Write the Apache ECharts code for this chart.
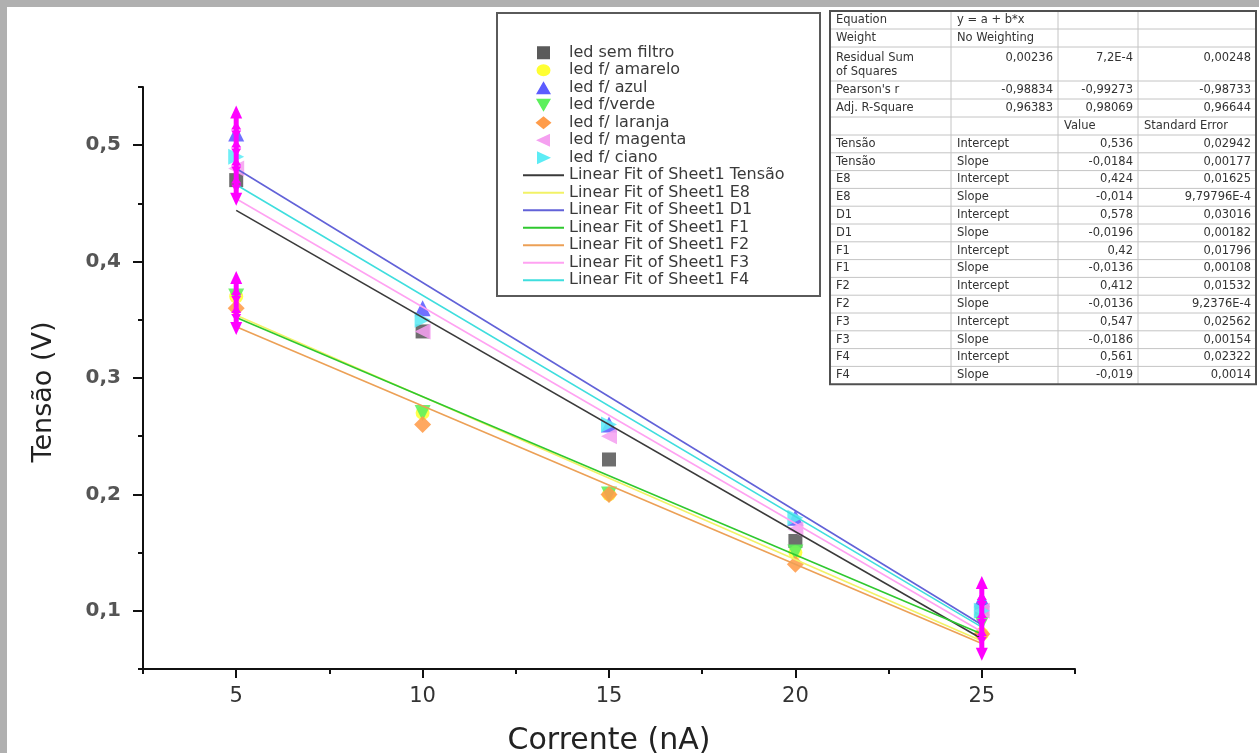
<!DOCTYPE html>
<html>
<head>
<meta charset="utf-8">
<script src="https://cdn.jsdelivr.net/npm/echarts@6/dist/echarts.min.js"></script>
<style>
html, body { margin: 0; padding: 0; background: #b0b0b0; }
#grafico { width: 1259px; height: 753px; }
</style>
</head>
<body>
<div id="grafico"></div>
<script>
// corrente (nA)
var corrente = [5, 10, 15, 20, 25];

// tensão (V) de cada led
var semFiltro = [0.47, 0.34, 0.23, 0.16, 0.10];
var amarelo   = [0.37, 0.27, 0.20, 0.15, 0.08];
var azul      = [0.51, 0.36, 0.26, 0.18, 0.11];
var verde     = [0.37, 0.27, 0.20, 0.15, 0.09];
var laranja   = [0.36, 0.26, 0.20, 0.14, 0.08];
var magenta   = [0.48, 0.34, 0.25, 0.17, 0.10];
var ciano     = [0.49, 0.35, 0.26, 0.18, 0.10];

// barras magenta (x, min, max)
var barras = [[5, 0.448, 0.534], [5, 0.337, 0.392], [25, 0.057, 0.130]];

// ajuste linear (tabela)
var ajusteNomes = ['Tensão', 'E8', 'D1', 'F1', 'F2', 'F3', 'F4'];
var intercepto  = [0.536, 0.424, 0.578, 0.42, 0.412, 0.547, 0.561];
var interceptoErro = ['0,02942', '0,01625', '0,03016', '0,01796', '0,01532', '0,02562', '0,02322'];
var inclinacao  = [-0.0184, -0.014, -0.0196, -0.0136, -0.0136, -0.0186, -0.019];
var inclinacaoErro = ['0,00177', '9,79796E-4', '0,00182', '0,00108', '9,2376E-4', '0,00154', '0,0014'];
var cabecalho = [
    ['Equation', 'y = a + b*x', '', ''],
    ['Weight', 'No Weighting', '', ''],
    ['Residual Sum\nof Squares', '0,00236', '7,2E-4', '0,00248'],
    ["Pearson's r", '-0,98834', '-0,99273', '-0,98733'],
    ['Adj. R-Square', '0,96383', '0,98069', '0,96644'],
    ['', '', 'Value', 'Standard Error']
];

var ticksX = [5, 10, 15, 20, 25];
var ticksXmenor = [2.5, 7.5, 12.5, 17.5, 22.5, 27.5];
var ticksY = [0.1, 0.2, 0.3, 0.4, 0.5];
var ticksYmenor = [0.05, 0.15, 0.25, 0.35, 0.45, 0.55];

// icones da legenda (caixa 41x13, cantos fixos para nao esticar)
var cantos = 'M0,0L0.01,0.01M41,13L40.99,12.99';
var icones = {
    quadrado: 'path://' + cantos + 'M14,0L27,0L27,13L14,13Z',
    circulo: 'path://' + cantos + 'M13.5,6.5A7,6,0,1,1,27.5,6.5A7,6,0,1,1,13.5,6.5Z',
    cima: 'path://' + cantos + 'M20.5,0L28,13L13,13Z',
    baixo: 'path://' + cantos + 'M13,0L28,0L20.5,13Z',
    losango: 'path://' + cantos + 'M20.5,0L28.5,6.5L20.5,13L12.5,6.5Z',
    esquerda: 'path://' + cantos + 'M13,6.5L27,0L27,13Z',
    direita: 'path://' + cantos + 'M14,0L28,6.5L14,13Z'
};

var leds = [
    {nome: 'led sem filtro', y: semFiltro, cor: '#5a5a5a', simbolo: 'rect', tam: 14, rot: 0, icone: icones.quadrado},
    {nome: 'led f/ amarelo', y: amarelo, cor: '#ffff33', simbolo: 'circle', tam: 14, rot: 0, icone: icones.circulo},
    {nome: 'led f/ azul', y: azul, cor: '#5c5cff', simbolo: 'triangle', tam: 16, rot: 0, icone: icones.cima},
    {nome: 'led f/verde', y: verde, cor: '#5cf05c', simbolo: 'triangle', tam: 16, rot: 180, icone: icones.baixo},
    {nome: 'led f/ laranja', y: laranja, cor: '#ff9c4a', simbolo: 'diamond', tam: 17, rot: 0, icone: icones.losango},
    {nome: 'led f/ magenta', y: magenta, cor: '#f5a0f0', simbolo: 'triangle', tam: 16, rot: 90, icone: icones.esquerda},
    {nome: 'led f/ ciano', y: ciano, cor: '#5cecf5', simbolo: 'triangle', tam: 16, rot: -90, icone: icones.direita}
];
var coresAjuste = ['#3a3a3a', '#f2f266', '#6262d8', '#2fc82f', '#eca056', '#ffa2f2', '#3fdede'];

var fonte = '"DejaVu Sans", "Liberation Sans", Arial, sans-serif';
function virgula(v) { return String(v).replace('.', ','); }

var series = [];
var legenda = [];
leds.forEach(function (l) {
    series.push({
        name: l.nome,
        type: 'scatter',
        symbol: l.simbolo,
        symbolSize: l.tam,
        symbolRotate: l.rot,
        itemStyle: {color: l.cor, opacity: 0.88},
        data: corrente.map(function (x, i) { return [x, l.y[i]]; }),
        z: 3
    });
    legenda.push({name: l.nome, icon: l.icone, symbolRotate: 0, itemStyle: {opacity: 1}});
});
ajusteNomes.forEach(function (n, k) {
    var nome = 'Linear Fit of Sheet1 ' + n;
    var x0 = corrente[0], x1 = corrente[corrente.length - 1];
    series.push({
        name: nome,
        type: 'line',
        symbol: 'none',
        lineStyle: {color: coresAjuste[k], width: 1.6},
        itemStyle: {color: coresAjuste[k]},
        data: [[x0, intercepto[k] + inclinacao[k] * x0], [x1, intercepto[k] + inclinacao[k] * x1]],
        z: 4
    });
    legenda.push({name: nome, itemStyle: {color: 'rgba(0,0,0,0)', opacity: 0, borderWidth: 0}});
});
series.push({
    name: 'barras',
    type: 'custom',
    z: 5,
    data: barras,
    renderItem: function (params, api) {
        var topo = api.coord([api.value(0), api.value(2)]);
        var base = api.coord([api.value(0), api.value(1)]);
        var x = topo[0], cor = '#ff00ff';
        var filhos = [{
            type: 'line',
            shape: {x1: x, y1: topo[1] + 8, x2: x, y2: base[1] - 8},
            style: {stroke: cor, lineWidth: 5}
        }, {
            type: 'polygon',
            shape: {points: [[x, topo[1]], [x - 6, topo[1] + 13], [x + 6, topo[1] + 13]]},
            style: {fill: cor}
        }, {
            type: 'polygon',
            shape: {points: [[x, base[1]], [x - 6, base[1] - 13], [x + 6, base[1] - 13]]},
            style: {fill: cor}
        }];
        var up = true;
        for (var yy = topo[1] + 16; yy < base[1] - 16; yy += 9) {
            var p = up ? [[x, yy], [x - 5, yy + 8], [x + 5, yy + 8]] : [[x, yy + 8], [x - 5, yy], [x + 5, yy]];
            filhos.push({type: 'polygon', shape: {points: p}, style: {fill: cor}});
            up = !up;
        }
        return {type: 'group', children: filhos};
    }
});

// tabela de resultados do ajuste
var linhasTabela = cabecalho.slice();
ajusteNomes.forEach(function (n, k) {
    linhasTabela.push([n, 'Intercept', virgula(intercepto[k]), interceptoErro[k]]);
    linhasTabela.push([n, 'Slope', virgula(inclinacao[k]), inclinacaoErro[k]]);
});
var tabX = [830, 951, 1058, 1138, 1256];
var tabTop = 11;
var alturas = linhasTabela.map(function (r, i) { return i === 2 ? 34 : (i < 6 ? 18 : 17.8); });
var tabela = [];
var yAtual = tabTop;
tabela.push({type: 'rect', shape: {x: tabX[0], y: tabTop, width: tabX[4] - tabX[0], height: 373}, style: {fill: '#fff', stroke: null}});
linhasTabela.forEach(function (r, i) {
    var h = alturas[i];
    for (var c = 0; c < 4; c++) {
        var txt = r[c];
        if (!txt) continue;
        var esquerda = c === 0 || (c === 1 && (i < 2 || i > 5)) || i === 5;
        tabela.push({
            type: 'text',
            style: {
                text: txt,
                x: esquerda ? tabX[c] + 6 : tabX[c + 1] - 5,
                y: i === 2 ? yAtual + 4 : yAtual + h / 2,
                align: esquerda ? 'left' : 'right',
                verticalAlign: i === 2 ? 'top' : 'middle',
                font: '11.5px ' + fonte,
                fill: '#333',
                lineHeight: 14
            }
        });
    }
    yAtual += h;
    if (i < linhasTabela.length - 1) {
        tabela.push({type: 'line', shape: {x1: tabX[0], y1: yAtual, x2: tabX[4], y2: yAtual}, style: {stroke: '#c4c4c4', lineWidth: 1}});
    }
});
for (var c = 1; c < 4; c++) {
    tabela.push({type: 'line', shape: {x1: tabX[c], y1: tabTop, x2: tabX[c], y2: yAtual}, style: {stroke: '#c4c4c4', lineWidth: 1}});
}
tabela.push({type: 'rect', shape: {x: tabX[0], y: tabTop, width: tabX[4] - tabX[0], height: yAtual - tabTop}, style: {fill: null, stroke: '#505050', lineWidth: 2}});

var chart = echarts.init(document.getElementById('grafico'));
var option = {
    backgroundColor: '#b0b0b0',
    animation: false,
    textStyle: {fontFamily: fonte},
    grid: {left: 143, right: 184, top: 87, bottom: 84, containLabel: false, outerBoundsMode: 'none'},
    legend: {
        data: legenda,
        orient: 'vertical',
        left: 522,
        top: 44,
        padding: 0,
        itemWidth: 41,
        itemHeight: 13,
        itemGap: 0,
        selectedMode: false,
        textStyle: {fontFamily: fonte, fontSize: 16, lineHeight: 17.5, color: '#3a3a3a'}
    },
    xAxis: [{
        type: 'value',
        min: 2.5, max: 27.5,
        name: 'Corrente (nA)',
        nameLocation: 'middle',
        nameGap: 57,
        nameTextStyle: {fontFamily: fonte, fontSize: 30, color: '#222'},
        axisLine: {onZero: false, lineStyle: {color: '#111', width: 2}},
        axisTick: {show: true, customValues: ticksX, length: 9, lineStyle: {color: '#111', width: 2}},
        axisLabel: {customValues: ticksX, margin: 17, fontSize: 21, color: '#333', fontFamily: fonte},
        splitLine: {show: false}
    }, {
        type: 'value',
        min: 2.5, max: 27.5,
        position: 'bottom',
        axisLine: {show: false, onZero: false},
        axisTick: {show: true, customValues: ticksXmenor, length: 5, lineStyle: {color: '#111', width: 2}},
        axisLabel: {show: false},
        splitLine: {show: false}
    }],
    yAxis: [{
        type: 'value',
        min: 0.05, max: 0.55,
        name: 'Tensão (V)',
        nameLocation: 'middle',
        nameGap: 86,
        nameTextStyle: {fontFamily: fonte, fontSize: 27, color: '#222', padding: [0, 28, 0, 0]},
        axisLine: {show: true, onZero: false, lineStyle: {color: '#111', width: 2}},
        axisTick: {show: true, customValues: ticksY, length: 10, lineStyle: {color: '#111', width: 2}},
        axisLabel: {
            customValues: ticksY, margin: 22, fontSize: 20, fontWeight: 'bold', color: '#555', fontFamily: fonte,
            formatter: function (v) { return v.toFixed(1).replace('.', ','); }
        },
        splitLine: {show: false}
    }, {
        type: 'value',
        min: 0.05, max: 0.55,
        position: 'left',
        axisLine: {show: false, onZero: false},
        axisTick: {show: true, customValues: ticksYmenor, length: 5, lineStyle: {color: '#111', width: 2}},
        axisLabel: {show: false},
        splitLine: {show: false}
    }],
    graphic: [
        {type: 'rect', z: -100, shape: {x: 7, y: 7, width: 1252, height: 746}, style: {fill: '#ffffff'}},
        {type: 'rect', z: 1, shape: {x: 497, y: 13, width: 323, height: 283}, style: {fill: '#ffffff', stroke: '#5a5a5a', lineWidth: 2}},
        {type: 'group', z: 10, children: tabela}
    ],
    series: series
};
chart.setOption(option);
</script>
</body>
</html>
